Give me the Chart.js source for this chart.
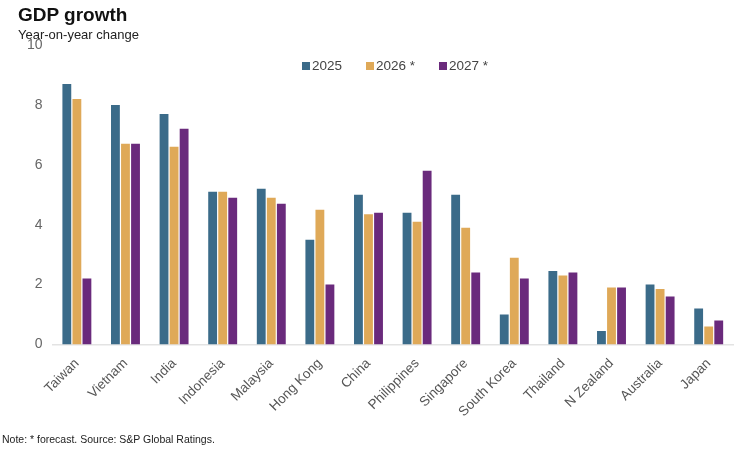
<!DOCTYPE html>
<html>
<head>
<meta charset="utf-8">
<script src="https://cdn.jsdelivr.net/npm/chart.js@4"></script>
<style>
  body { margin: 0; background: #fff; font-family: "Liberation Sans", Arial, sans-serif; }
  #wrap { position: relative; width: 745px; height: 456px; }
  #title { position: absolute; left: 18px; top: 4px; font-size: 19px; font-weight: bold; color: #111; }
  #subtitle { position: absolute; left: 18px; top: 27px; font-size: 13px; color: #222; }
  #note { position: absolute; left: 2px; top: 433px; font-size: 10.5px; color: #222; }
  #legend { position: absolute; left: 0; width: 790px; top: 58px; text-align: center; font-size: 13.5px; color: #444; }
  #legend span.item { margin: 0 12px; white-space: nowrap; }
  #legend span.box { display: inline-block; width: 8px; height: 8px; margin-right: 2px; }
</style>
</head>
<body>
<div id="wrap">
  <canvas id="myChart" width="745" height="456"></canvas>
  <div id="title">GDP growth</div>
  <div id="subtitle">Year-on-year change</div>
  <div id="legend"></div>
  <div id="note">Note: * forecast. Source: S&amp;P Global Ratings.</div>
</div>
<script>
const countries = ["Taiwan", "Vietnam", "India", "Indonesia", "Malaysia", "Hong Kong", "China",
                   "Philippines", "Singapore", "South Korea", "Thailand", "N Zealand", "Australia", "Japan"];
const seriesNames = ["2025", "2026 *", "2027 *"];
const gdp2025 = [8.7, 8.0, 7.7, 5.1, 5.2, 3.5, 5.0, 4.4, 5.0, 1.0, 2.45, 0.45, 2.0, 1.2];
const gdp2026 = [8.2, 6.7, 6.6, 5.1, 4.9, 4.5, 4.35, 4.1, 3.9, 2.9, 2.3, 1.9, 1.85, 0.6];
const gdp2027 = [2.2, 6.7, 7.2, 4.9, 4.7, 2.0, 4.4, 5.8, 2.4, 2.2, 2.4, 1.9, 1.6, 0.8];
const yTicks = [0, 2, 4, 6, 8, 10];
const colors = ['#3b6b89', '#dfa958', '#6a2a7c'];

const seriesData = [gdp2025, gdp2026, gdp2027];
const datasets = seriesNames.map((name, i) => ({
    label: name,
    data: seriesData[i],
    backgroundColor: colors[i],
    borderWidth: 0,
    barPercentage: 0.88,
    categoryPercentage: 0.62
}));

// html legend
document.getElementById('legend').innerHTML = datasets.map(d =>
    '<span class="item"><span class="box" style="background:' + d.backgroundColor + '"></span>' + d.label + '</span>'
).join('');

const ctx = document.getElementById('myChart').getContext('2d');
const chart = new Chart(ctx, {
    type: 'bar',
    data: { labels: countries, datasets: datasets },
    options: {
        responsive: false,
        animation: false,
        layout: { padding: { left: 17, right: 12, top: 45, bottom: 33 } },
        plugins: { legend: { display: false }, title: { display: false }, tooltip: { enabled: false } },
        scales: {
            x: {
                grid: { display: false },
                border: { color: '#e3e3e3', width: 1.5 },
                ticks: {
                    maxRotation: 45, minRotation: 45,
                    color: '#555',
                    font: { family: 'Liberation Sans', size: 13.5 }
                }
            },
            y: {
                min: 0, max: 10,
                afterBuildTicks: axis => { axis.ticks = yTicks.map(v => ({ value: v })); },
                grid: { display: false, drawTicks: false },
                border: { display: false },
                ticks: {
                    padding: 10,
                    color: '#666',
                    font: { family: 'Liberation Sans', size: 14 }
                }
            }
        }
    }
});
</script>
</body>
</html>
